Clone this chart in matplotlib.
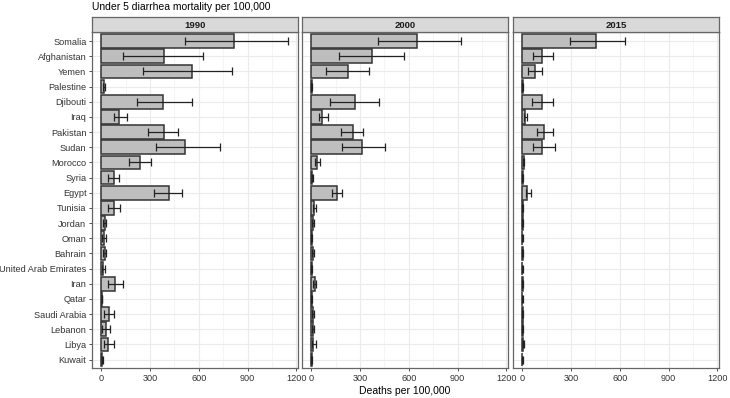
import matplotlib
matplotlib.use("Agg")
import matplotlib.pyplot as plt
import numpy as np

plt.rcParams['font.family'] = ['Liberation Sans', 'DejaVu Sans']

# Countries (top to bottom)
countries = ["Somalia", "Afghanistan", "Yemen", "Palestine", "Djibouti", "Iraq",
             "Pakistan", "Sudan", "Morocco", "Syria", "Egypt", "Tunisia", "Jordan",
             "Oman", "Bahrain", "United Arab Emirates", "Iran", "Qatar",
             "Saudi Arabia", "Lebanon", "Libya", "Kuwait"]
years = ["1990", "2000", "2015"]

# Deaths per 100,000 (estimate, lower, upper)
val_1990 = [816, 386, 555, 16, 382, 112, 386, 516, 237, 76, 418, 76, 20, 16, 20, 10, 82, 4, 47, 27, 41, 5]
low_1990 = [518, 133, 259, 8, 222, 76, 290, 335, 173, 41, 327, 41, 10, 2, 10, 4, 43, 2, 14, 6, 18, 3]
up_1990 = [1149, 624, 806, 25, 557, 159, 469, 731, 304, 110, 494, 114, 31, 31, 31, 20, 133, 6, 76, 51, 76, 8]

val_2000 = [650, 374, 227, 3, 272, 67, 254, 309, 37, 6, 160, 18, 8, 3, 8, 3, 20, 2, 8, 8, 12, 2]
low_2000 = [411, 170, 90, 1, 115, 45, 182, 186, 22, 3, 127, 8, 3, 1, 3, 1, 10, 1, 3, 3, 4, 1]
up_2000 = [924, 571, 358, 6, 415, 104, 321, 456, 55, 10, 188, 30, 14, 6, 14, 6, 30, 4, 14, 14, 28, 4]

val_2015 = [451, 122, 76, 2, 124, 18, 133, 124, 8, 2, 31, 3, 2, 1, 2, 1, 3, 1, 2, 2, 5, 1]
low_2015 = [296, 69, 37, 1, 59, 8, 90, 69, 4, 1, 20, 1, 1, 0, 1, 0, 1, 0, 1, 1, 2, 0]
up_2015 = [629, 188, 120, 4, 192, 31, 186, 204, 12, 4, 51, 6, 4, 2, 4, 2, 6, 2, 4, 4, 10, 2]

panels = [(val_1990, low_1990, up_1990), (val_2000, low_2000, up_2000), (val_2015, low_2015, up_2015)]

W, H = 730, 398
fig = plt.figure(figsize=(W / 100, H / 100), dpi=100)

lefts = [92, 302, 513]
pw = 206
top, bottom = 32, 368
strip_h = 15
ypos = np.arange(len(countries))

for i, (vals, lows, ups) in enumerate(panels):
    ax = fig.add_axes([lefts[i] / W, (H - bottom) / H, pw / W, (bottom - top) / H])
    ax.set_facecolor("white")
    vals = np.array(vals)
    ax.barh(ypos, vals, height=0.9, color="#BEBEBE", edgecolor="#333333", linewidth=1.1, zorder=3)
    err = [vals - np.array(lows), np.array(ups) - vals]
    ax.errorbar(vals, ypos, xerr=err, fmt="none", ecolor="#222222", elinewidth=0.9,
                capsize=3.2, capthick=0.9, zorder=4)
    ax.set_xlim(-57, 1210)
    ax.set_ylim(len(countries) - 0.45, -0.6)
    ax.set_xticks([0, 300, 600, 900, 1200])
    ax.set_xticks([150, 450, 750, 1050], minor=True)
    ax.set_yticks(ypos)
    ax.grid(which="major", color="#EBEBEB", linewidth=0.8, zorder=0)
    ax.grid(which="minor", axis="x", color="#F4F4F4", linewidth=0.6, zorder=0)
    ax.set_axisbelow(True)
    for s in ax.spines.values():
        s.set_color("#666666")
        s.set_linewidth(0.9)
    ax.tick_params(axis="both", which="major", length=2.5, width=0.6, color="#333333",
                   labelsize=6.6, labelcolor="#333333", pad=1.5)
    ax.tick_params(axis="x", which="minor", length=0)
    if i == 0:
        ax.set_yticklabels(countries)
    else:
        ax.set_yticklabels([])
        ax.tick_params(axis="y", length=0)

    sax = fig.add_axes([lefts[i] / W, (H - top) / H, pw / W, strip_h / H])
    sax.set_facecolor("#D9D9D9")
    sax.set_xticks([])
    sax.set_yticks([])
    for s in sax.spines.values():
        s.set_color("#666666")
        s.set_linewidth(0.9)
    sax.text(0.5, 0.45, years[i], ha="center", va="center", fontsize=6.8,
             fontweight="bold", color="#1A1A1A", transform=sax.transAxes)

fig.text(92 / W, 1 - 7 / H, "Under 5 diarrhea mortality per 100,000", fontsize=7.5,
         ha="left", va="center", color="black")
fig.text(405 / W, 1 - 391 / H, "Deaths per 100,000", fontsize=7.5, ha="center",
         va="center", color="black")

fig.savefig("out.png", dpi=100)
